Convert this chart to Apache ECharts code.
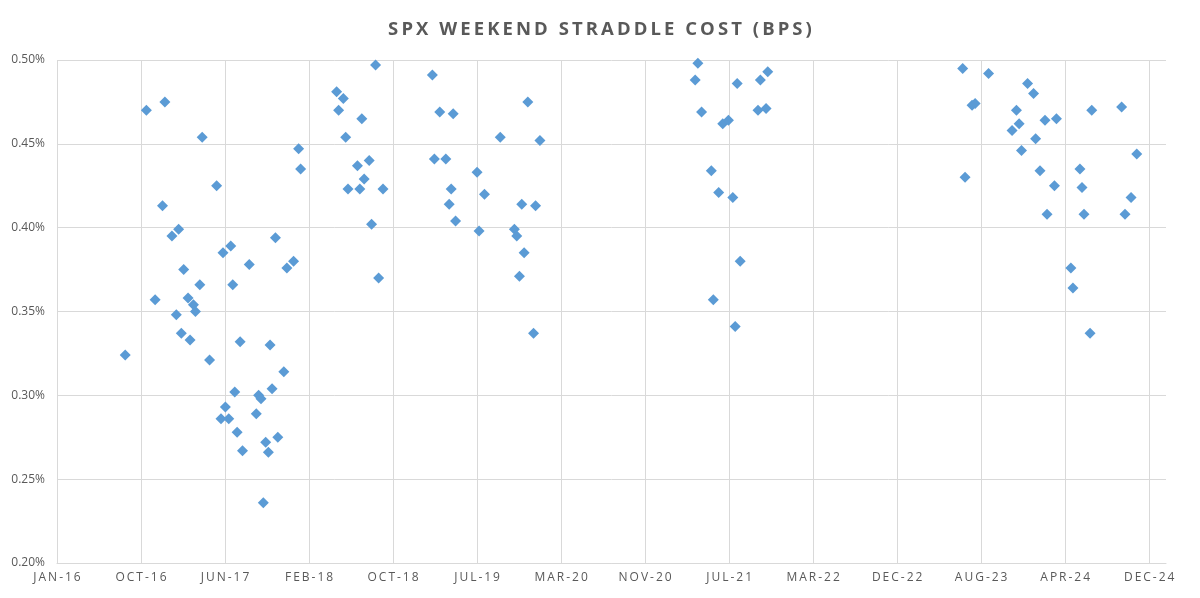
<!DOCTYPE html>
<html>
<head>
<meta charset="utf-8">
<title>SPX Weekend Straddle Cost</title>
<script src="https://cdn.jsdelivr.net/npm/echarts@6/dist/echarts.min.js"></script>
<style>
    html, body { margin: 0; padding: 0; background: #fff; }
    #chart { width: 1200px; height: 598px; }
</style>
</head>
<body>
<div id="chart"></div>
<script>
// weekend observation dates
var dates = [
    '2016-08-21', '2016-10-23', '2016-12-17', '2017-04-07', '2018-01-19', '2018-01-25',
    '2017-05-20', '2016-12-10', '2017-01-27', '2017-01-07', '2017-11-11', '2017-07-01',
    '2017-06-08', '2017-08-25', '2017-02-11', '2018-01-04', '2017-12-15', '2017-03-31',
    '2017-07-07', '2016-11-18', '2017-02-24', '2017-03-12', '2017-03-18', '2017-01-20',
    '2017-02-04', '2017-03-02', '2017-04-29', '2017-07-29', '2017-10-26', '2017-12-06',
    '2017-07-13', '2017-11-01', '2017-09-22', '2017-09-29', '2017-06-15', '2017-06-02',
    '2017-06-25', '2017-09-15', '2017-07-20', '2017-11-18', '2017-10-13', '2017-08-05',
    '2017-10-21', '2017-10-06',
    '2018-09-05', '2018-05-12', '2018-06-01', '2018-05-18', '2018-07-26', '2018-06-08',
    '2018-07-13', '2018-08-17', '2018-08-02', '2018-06-15', '2018-07-20', '2018-09-27',
    '2018-08-24', '2018-09-14',
    '2019-02-21', '2019-03-15', '2019-04-24', '2019-02-27', '2019-04-02', '2019-04-18',
    '2019-04-12', '2019-05-01', '2019-12-02', '2019-09-11', '2020-01-07', '2019-07-04',
    '2019-07-26', '2019-11-14', '2019-12-25', '2019-07-10', '2019-10-23', '2019-10-30',
    '2019-11-21', '2019-11-07', '2019-12-19',
    '2021-04-21', '2021-04-13', '2021-08-16', '2021-10-24', '2021-11-15', '2021-05-02',
    '2021-07-04', '2021-07-21', '2021-10-17', '2021-11-10', '2021-05-31', '2021-06-22',
    '2021-08-03', '2021-08-25', '2021-06-06', '2021-08-10',
    '2023-06-18', '2023-09-03', '2023-12-28', '2024-01-15', '2023-07-16', '2023-07-25',
    '2023-11-25', '2023-12-03', '2023-11-12', '2024-02-18', '2024-03-23', '2024-01-21',
    '2024-07-06', '2024-10-03', '2023-12-10', '2024-11-17', '2023-06-25', '2024-02-03',
    '2024-06-01', '2024-03-17', '2024-06-07', '2024-10-31', '2024-02-24', '2024-06-13',
    '2024-10-13', '2024-05-05', '2024-05-11', '2024-07-01'
];

// straddle cost, % of spot
var costs = [
    0.324, 0.470, 0.475, 0.454, 0.447, 0.435,
    0.425, 0.413, 0.399, 0.395, 0.394, 0.389,
    0.385, 0.378, 0.375, 0.380, 0.376, 0.366,
    0.366, 0.357, 0.358, 0.354, 0.350, 0.348,
    0.337, 0.333, 0.321, 0.332, 0.330, 0.314,
    0.302, 0.304, 0.300, 0.298, 0.293, 0.286,
    0.286, 0.289, 0.278, 0.275, 0.272, 0.267,
    0.266, 0.236,
    0.497, 0.481, 0.477, 0.470, 0.465, 0.454,
    0.437, 0.440, 0.429, 0.423, 0.423, 0.423,
    0.402, 0.370,
    0.491, 0.469, 0.468, 0.441, 0.441, 0.423,
    0.414, 0.404, 0.475, 0.454, 0.452, 0.433,
    0.420, 0.414, 0.413, 0.398, 0.399, 0.395,
    0.385, 0.371, 0.337,
    0.498, 0.488, 0.486, 0.488, 0.493, 0.469,
    0.462, 0.464, 0.470, 0.471, 0.434, 0.421,
    0.418, 0.380, 0.357, 0.341,
    0.495, 0.492, 0.486, 0.480, 0.473, 0.474,
    0.470, 0.462, 0.458, 0.464, 0.465, 0.453,
    0.470, 0.472, 0.446, 0.444, 0.430, 0.434,
    0.435, 0.425, 0.424, 0.418, 0.408, 0.408,
    0.408, 0.376, 0.364, 0.337
];

var axisStart = '2016-01-31';
var axisSpan = 3300;     // days shown on the x axis
var tickStep = 250;      // days between labels
var monthNames = ['JAN', 'FEB', 'MAR', 'APR', 'MAY', 'JUN', 'JUL', 'AUG', 'SEP', 'OCT', 'NOV', 'DEC'];

var DAY = 86400000;
var startMs = Date.parse(axisStart);

function dayOffset(s) {
    return (Date.parse(s) - startMs) / DAY;
}

// spread letters a little like the excel styling
function spaced(str) {
    return str.split('').join('\u2009');
}

var points = [];
for (var i = 0; i < dates.length; i++) {
    points.push([dayOffset(dates[i]), costs[i]]);
}

var chart = echarts.init(document.getElementById('chart'));

var option = {
    backgroundColor: '#ffffff',
    animation: false,
    title: {
        text: spaced('SPX WEEKEND STRADDLE COST (BPS)'),
        left: 'center',
        top: 15,
        textStyle: {
            color: '#595959',
            fontFamily: 'Open Sans',
            fontWeight: 'bold',
            fontSize: 18.5
        }
    },
    grid: {
        left: 57,
        right: 34,
        top: 60,
        bottom: 35
    },
    xAxis: {
        type: 'value',
        min: 0,
        max: axisSpan,
        interval: tickStep,
        axisLine: { show: true, lineStyle: { color: '#d9d9d9', width: 1 } },
        axisTick: { show: false },
        axisLabel: {
            color: '#595959',
            fontFamily: 'Open Sans',
            fontSize: 12,
            margin: 9,
            showMaxLabel: false,
            formatter: function (v) {
                if (v % tickStep !== 0) return '';
                var d = new Date(startMs + v * DAY);
                var yy = String(d.getUTCFullYear()).slice(2);
                return spaced(monthNames[d.getUTCMonth()] + '-' + yy);
            }
        },
        splitLine: {
            show: true,
            showMaxLine: false,
            lineStyle: { color: '#d9d9d9', width: 1 }
        }
    },
    yAxis: {
        type: 'value',
        min: 0.2,
        max: 0.5,
        interval: 0.05,
        axisLine: { show: false },
        axisTick: { show: false },
        axisLabel: {
            color: '#595959',
            fontFamily: 'Open Sans',
            fontSize: 12,
            margin: 12,
            formatter: function (v) {
                return v.toFixed(2) + '%';
            }
        },
        splitLine: {
            lineStyle: { color: '#d9d9d9', width: 1 }
        }
    },
    series: [
        {
            name: 'Weekend straddle',
            type: 'scatter',
            symbol: 'diamond',
            symbolSize: 11,
            itemStyle: { color: '#5b9bd5', opacity: 1 },
            data: points
        }
    ]
};

chart.setOption(option);
</script>
</body>
</html>
